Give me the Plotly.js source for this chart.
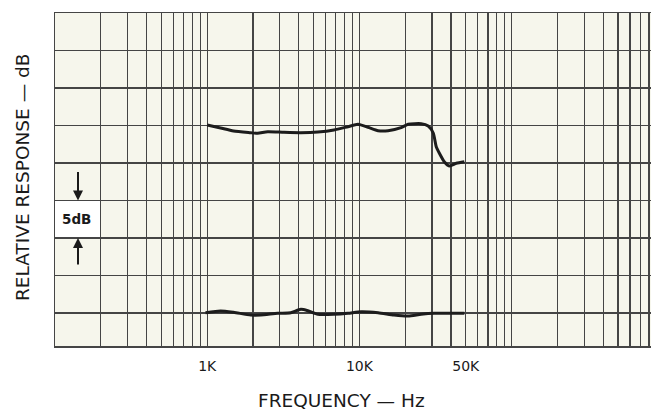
<!DOCTYPE html>
<html>
<head>
<meta charset="utf-8">
<script src="https://cdn.plot.ly/plotly-3.0.1.min.js"></script>
<style>html,body{margin:0;padding:0;background:#fff;overflow:hidden}#chart{width:651px;height:410px}</style>
</head>
<body>
<div id="chart"></div>
<script>
// Upper curve (frequency in Hz, relative response in dB)
const upperFreq = [1000, 1224, 1490, 1930, 2146, 2497, 3184, 4121, 5333, 6804, 8412, 9790, 11400, 13270, 15440, 18800, 20900, 25470, 28330, 30570, 31990, 33480, 36120, 38980, 43330, 48950];
const upperDb   = [25.07, 24.67, 24.27, 24.04, 23.96, 24.17, 24.09, 24.04, 24.13, 24.4, 24.84, 25.16, 24.76, 24.31, 24.31, 24.71, 25.16, 25.24, 24.93, 24.0, 22.17, 21.33, 20.17, 19.6, 19.96, 20.17];
// Lower curve
const lowerFreq = [975, 1224, 1490, 1930, 2246, 2906, 3540, 4121, 4585, 5333, 6804, 8412, 10250, 13270, 16900, 20900, 25470, 31040, 42070, 48950];
const lowerDb   = [0.04, 0.27, 0.09, -0.27, -0.27, -0.04, 0.04, 0.49, 0.31, -0.17, -0.17, -0.04, 0.17, 0.04, -0.27, -0.4, -0.17, -0.04, -0.04, -0.04];
// Grid (log paper) and tick labels
const decades = [100, 1000, 10000, 100000];
const gridMult = [1, 2, 3, 4, 5, 6, 7, 8, 9];
const labelFreq = [1000, 10000, 50000];
const labelText = ['1K', '10K', '50K'];
const dbGrid = [0, 5, 10, 15, 20, 25, 30, 35, 40];

const gridVals = [];
decades.forEach(d => gridMult.forEach(m => { const v = d * m; if (v <= 820000) gridVals.push(v); }));
const gridText = gridVals.map(v => { const i = labelFreq.indexOf(v); return i >= 0 ? labelText[i] : ''; });

const lineStyle = {color: '#1c1c1c', width: 3, shape: 'spline', smoothing: 0.6};
const traces = [
  {x: upperFreq, y: upperDb, mode: 'lines', line: lineStyle, hoverinfo: 'skip'},
  {x: lowerFreq, y: lowerDb, mode: 'lines', line: lineStyle, hoverinfo: 'skip'}
];

const font = 'DejaVu Sans, Arial, sans-serif';
const layout = {
  width: 651, height: 410,
  margin: {l: 55, r: 0, t: 13, b: 64},
  paper_bgcolor: '#ffffff',
  plot_bgcolor: '#f6f6ec',
  showlegend: false,
  font: {family: font, color: '#1a1a1a'},
  xaxis: {
    type: 'log', range: [2, 5.916],
    tickvals: gridVals, ticktext: gridText,
    showgrid: true, gridcolor: '#454545', gridwidth: 1.2,
    ticks: '', ticklabelstandoff: 7,
    tickfont: {family: font, size: 14, color: '#1a1a1a'},
    showline: true, mirror: true, linecolor: '#454545', linewidth: 1.5,
    zeroline: false, fixedrange: true
  },
  yaxis: {
    range: [-4.4, 40],
    tickvals: dbGrid, showticklabels: false,
    showgrid: true, gridcolor: '#454545', gridwidth: 1.2,
    ticks: '', zeroline: false,
    showline: true, mirror: true, linecolor: '#454545', linewidth: 1.5,
    fixedrange: true
  },
  shapes: [
    {type: 'rect', xref: 'x', yref: 'y', x0: 100, x1: 200, y0: 10, y1: 15, fillcolor: '#ffffff', line: {width: 0}, layer: 'below'}
  ],
  annotations: [
    {xref: 'paper', yref: 'paper', x: (22 - 55) / 596, y: (346 - 178) / 333, text: 'RELATIVE RESPONSE — dB',
     textangle: -90, showarrow: false, xanchor: 'center', yanchor: 'middle', font: {family: font, size: 18.5, color: '#1a1a1a'}},
    {xref: 'paper', yref: 'paper', x: (341 - 55) / 596, y: (346 - 400) / 333, text: 'FREQUENCY — Hz',
     showarrow: false, xanchor: 'center', yanchor: 'middle', font: {family: font, size: 18.5, color: '#1a1a1a'}},
    {xref: 'paper', yref: 'y', x: (76 - 55) / 596, y: 12.5, text: '<b>5dB</b>',
     showarrow: false, xanchor: 'center', yanchor: 'middle', font: {family: font, size: 13.5, color: '#1a1a1a'}},
    {xref: 'paper', yref: 'y', x: (78 - 55) / 596, y: 15, text: '', showarrow: true,
     ax: 0, ay: -30, arrowhead: 2, arrowsize: 1, arrowwidth: 2, arrowcolor: '#1a1a1a'},
    {xref: 'paper', yref: 'y', x: (78 - 55) / 596, y: 10, text: '', showarrow: true,
     ax: 0, ay: 28, arrowhead: 2, arrowsize: 1, arrowwidth: 2, arrowcolor: '#1a1a1a'}
  ]
};

Plotly.newPlot('chart', traces, layout, {displayModeBar: false, staticPlot: true});
</script>
</body>
</html>
